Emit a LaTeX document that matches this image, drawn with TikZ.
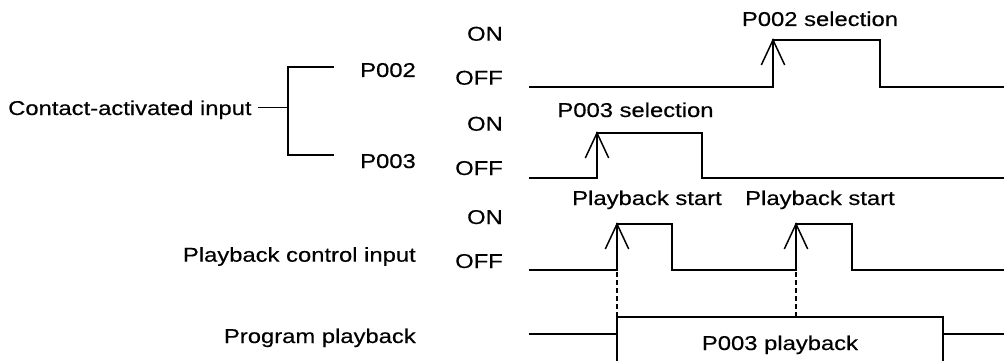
\documentclass[tikz,border=0pt]{standalone}
\usepackage{fontspec}
\setmainfont{Liberation Sans}[FakeStretch=1.19,FakeBold=0.4]
\begin{document}
\begin{tikzpicture}[x=1pt,y=-1pt,
  lbl/.style={inner sep=0pt, font=\fontsize{20}{21}\selectfont},
  sig/.style={line width=1.8pt, line join=miter},
  thin/.style={line width=1.2pt},
  guide/.style={line width=1.1pt, dash pattern=on 5pt off 3pt},
  barb/.style={line width=1.5pt}]
\useasboundingbox (0,0) rectangle (1004,361);
\newcommand{\uparr}[2]{\draw[barb] (#1-11.7,#2+25) -- (#1,#2) -- (#1+11.7,#2+25);}
% left labels
\node[lbl, anchor=base west] (cai) at (8,115) {Contact-activated input};
\node[lbl, anchor=base east] (p2) at (416,77) {P002};
\node[lbl, anchor=base east] (p3) at (416,168) {P003};
\node[lbl, anchor=base east] (pci) at (416,261.7) {Playback control input};
\node[lbl, anchor=base east] (pp) at (416,343) {Program playback};
\node[lbl, anchor=base east] (on1) at (503,40.7) {ON};
\node[lbl, anchor=base east] (off1) at (503,84.7) {OFF};
\node[lbl, anchor=base east] (on2) at (503,130.7) {ON};
\node[lbl, anchor=base east] (off2) at (503,175) {OFF};
\node[lbl, anchor=base east] (on3) at (503,224) {ON};
\node[lbl, anchor=base east] (off3) at (503,268) {OFF};
% bracket
\draw[thin] (258,107.5) -- (288,107.5);
\draw[thin] (334,67) -- (288,67) -- (288,155) -- (334,155);
% P002 signal
\draw[sig] (529,87) -- (773,87) -- (773,40) -- (880,40) -- (880,87) -- (1004,87);
\uparr{773}{40}
\node[lbl, anchor=base] (s2) at (820,26) {P002 selection};
% P003 signal
\draw[sig] (529,178) -- (597,178) -- (597,133) -- (702,133) -- (702,178) -- (1004,178);
\uparr{597}{133}
\node[lbl, anchor=base] (s3) at (635.5,117) {P003 selection};
% playback control
\draw[sig] (529,270) -- (617,270) -- (617,224) -- (672,224) -- (672,270) -- (796,270) -- (796,224) -- (852,224) -- (852,270) -- (1004,270);
\uparr{617}{224}
\uparr{796}{224}
\node[lbl, anchor=base] (ps1) at (647,205) {Playback start};
\node[lbl, anchor=base] (ps2) at (820,205) {Playback start};
% dashed guides
\draw[guide] (617,272) -- (617,317);
\draw[guide] (796,272) -- (796,317);
% program playback
\draw[sig] (529,334) -- (617,334);
\draw[sig] (943,334) -- (1004,334);
\draw[line width=1.5pt] (617,361) -- (617,317) -- (943,317) -- (943,361);
\node[lbl, anchor=base] (p3p) at (780,350) {P003 playback};
\end{tikzpicture}
\end{document}
